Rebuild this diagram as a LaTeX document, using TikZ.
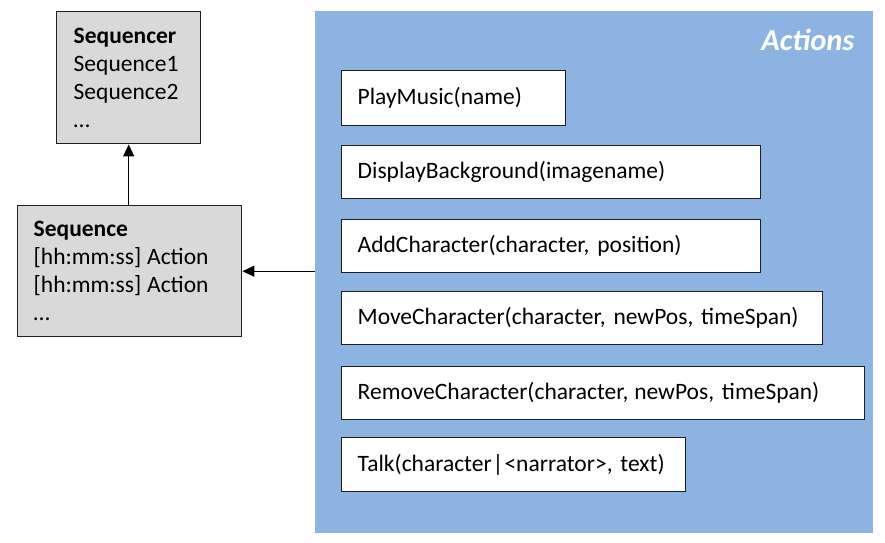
\documentclass[tikz,border=0pt]{standalone}
\usepackage{fontspec}
\setmainfont{Carlito}
\usetikzlibrary{arrows.meta}
\definecolor{panelblue}{HTML}{8DB3E2}
\definecolor{boxgray}{HTML}{D9D9D9}
\definecolor{edge}{HTML}{1F1F1F}
\tikzset{
  every node/.style={font=\fontsize{23.5}{28}\selectfont},
  graybox/.style={draw=edge, line width=1.4pt, fill=boxgray, rectangle, align=left, inner ysep=0pt, anchor=north west},
  abox/.style={draw=edge, line width=1.4pt, fill=white, rectangle, align=left, inner xsep=16pt, inner ysep=0pt, minimum height=53pt, anchor=north west},
  arr/.style={draw=black, line width=1.2pt, -{Triangle[length=12pt,width=11pt]}},
}
\begin{document}
\begin{tikzpicture}[x=1pt,y=-1pt]
\useasboundingbox (0,0) rectangle (885,542);
\fill[white] (0,0) rectangle (885,542);
% panel
\node[fill=panelblue, rectangle, minimum width=558pt, minimum height=522pt, anchor=north west, inner sep=0pt] (panel) at (315,11) {};
\node[anchor=base east, text=white, font=\fontsize{30.5}{34}\selectfont\bfseries\itshape] (title) at (858,50) {Actions};
% gray boxes
\node[graybox, inner xsep=17pt, text width=110pt, minimum height=132pt] (seqr) at (56,11) {\textbf{Sequencer}\\Sequence1\\Sequence2\\\dots};
\node[graybox, inner xsep=16pt, text width=192pt, minimum height=131pt] (seq) at (17,205) {\textbf{Sequence}\\{[hh:mm:ss]}\hspace{-2pt} Action\\{[hh:mm:ss]}\hspace{-2pt} Action\\\dots};
% action boxes
\node[abox, text width=192pt, minimum height=55pt] (pm) at (341,70) {PlayMusic(name)};
\node[abox, text width=387pt] (db) at (341,145) {DisplayBackground(imagename)};
\node[abox, text width=387pt] (ac) at (341,219) {AddCharacter(character, position)};
\node[abox, text width=449pt] (mc) at (341,291) {MoveCharacter(character, newPos, timeSpan)};
\node[abox, text width=491pt] (rc) at (341,366) {RemoveCharacter(character,\hspace{-2pt} newPos, timeSpan)};
\node[abox, text width=312pt, minimum height=54pt] (tk) at (341,437) {\mbox{Talk(character\kern1pt|\kern1pt<narrator>, text)}};
% arrows
\draw[arr] (seqr.south |- seq.north) -- (seqr.south);
\draw[arr] (seq.east -| panel.west) -- (seq.east);
\end{tikzpicture}
\end{document}
